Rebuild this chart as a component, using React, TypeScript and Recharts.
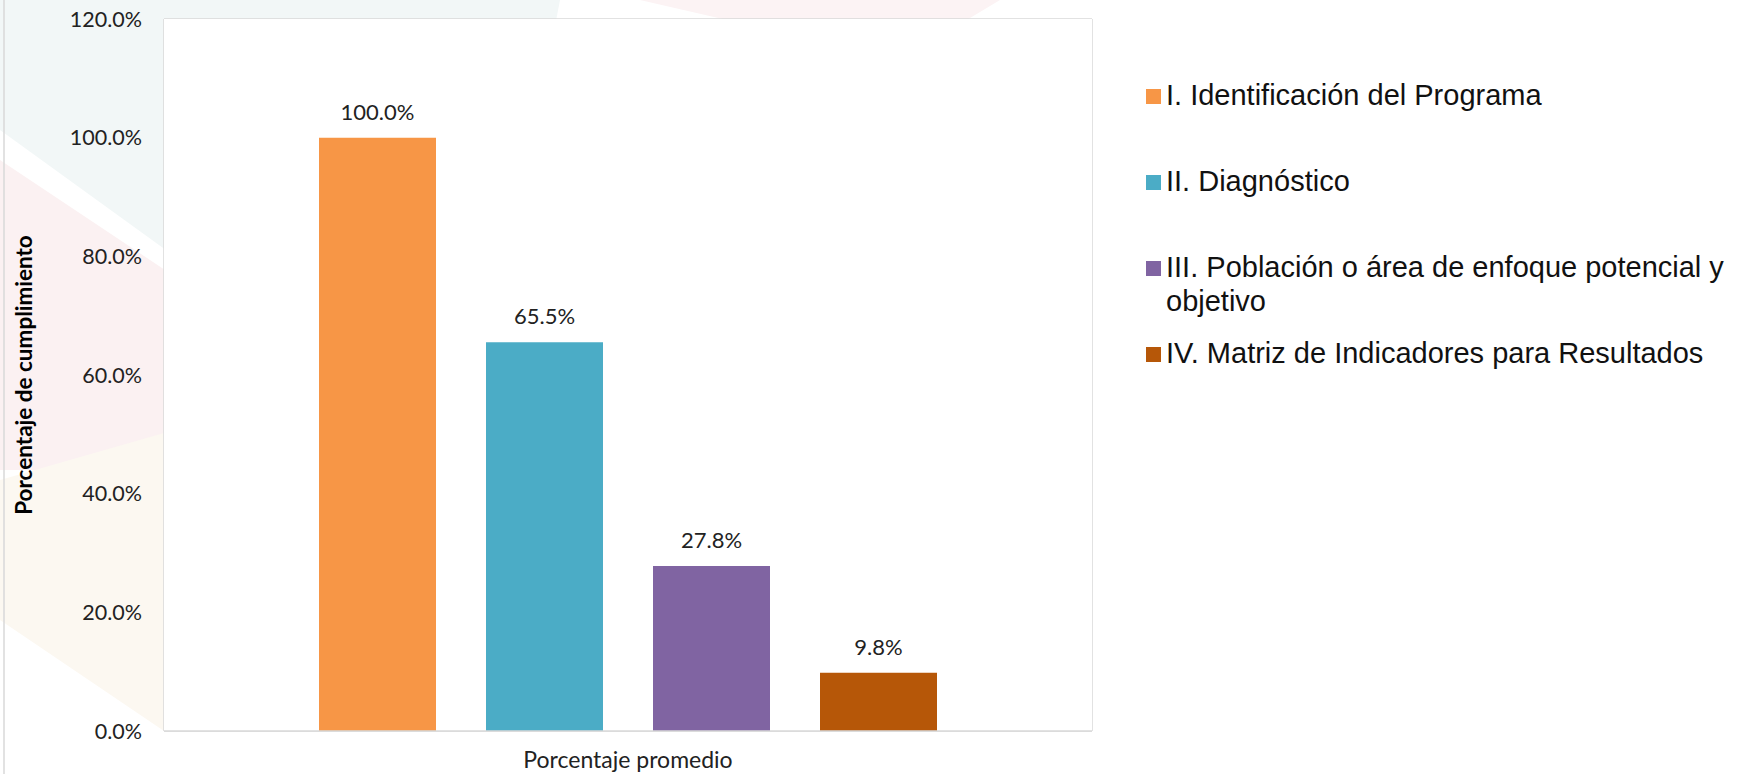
import { BarChart, Bar, XAxis, YAxis, CartesianGrid, Legend, LabelList, Label } from 'recharts';

const categories = ['Porcentaje promedio'];
const seriesNames = [
  'I. Identificación del Programa',
  'II. Diagnóstico',
  'III. Población o área de enfoque potencial y objetivo',
  'IV. Matriz de Indicadores para Resultados',
];
const seriesValues = [100.0, 65.5, 27.8, 9.8];
const seriesColors = ['#F79646', '#4BACC6', '#8064A2', '#B65708'];
const yTicks = [0, 20, 40, 60, 80, 100, 120];

const seriesKeys = seriesNames.map((_, i) => `s${i}`);
const data = categories.map((c) => {
  const row: Record<string, string | number> = { category: c };
  seriesKeys.forEach((k, i) => {
    row[k] = seriesValues[i];
  });
  return row;
});

const pct = (v: number) => `${Number(v).toFixed(1)}%`;
const tickFont = 'Lato, "Open Sans", sans-serif';

function LegendBox({ payload }: any) {
  return (
    <div style={{ fontFamily: '"Liberation Sans", Arial, sans-serif', fontSize: 29, color: '#111' }}>
      {(payload || []).map((p: any) => (
        <div key={p.value} style={{ display: 'flex', alignItems: 'flex-start', height: 86 }}>
          <span
            style={{
              width: 15,
              height: 15,
              background: p.color,
              marginTop: 10,
              marginRight: 5,
              flex: '0 0 auto',
            }}
          />
          <span style={{ lineHeight: '34px', marginTop: -1 }}>{p.value}</span>
        </div>
      ))}
    </div>
  );
}

export default function App() {
  return (
    <div style={{ position: 'relative', width: 1750, height: 774, background: '#fff', overflow: 'hidden' }}>
      <style>{'body{margin:0}'}</style>
      <svg width={1750} height={774} style={{ position: 'absolute', left: 0, top: 0 }}>
        <polygon points="0,0 560,0 470,470 0,130" fill="#f2f7f7" />
        <polygon points="0,160 300,360 320,470 0,470" fill="#fbf1f2" />
        <polygon points="0,480 420,360 164,731 0,620" fill="#fcf8f1" />
        <polygon points="640,0 1000,0 900,60" fill="#fcf3f4" />
        <line x1={4} y1={0} x2={4} y2={774} stroke="#d9d9d9" strokeWidth={1.5} />
      </svg>
      <div style={{ position: 'absolute', left: 0, top: 0 }}>
        <BarChart
          width={1750}
          height={774}
          data={data}
          margin={{ top: 19, right: 658, bottom: 0, left: 0 }}
          barSize={117}
          barGap={50}
        >
          <rect x={164} y={19} width={928} height={712} fill="#fff" />
          <CartesianGrid
            stroke="#d9d9d9"
            strokeWidth={1.5}
            verticalCoordinatesGenerator={({ offset }: any) => [offset.left, offset.left + offset.width]}
          />
          <XAxis
            dataKey="category"
            height={43}
            tick={false}
            tickLine={false}
            axisLine={{ stroke: '#d9d9d9', strokeWidth: 1.5 }}
          >
            <Label
              value="Porcentaje promedio"
              position="insideBottom"
              offset={6}
              style={{ fontFamily: tickFont, fontSize: 23, fill: '#222' }}
            />
          </XAxis>
          <YAxis
            width={164}
            domain={[0, 120]}
            ticks={yTicks}
            tickFormatter={pct}
            tickLine={false}
            tickSize={0}
            tickMargin={22}
            axisLine={false}
            tick={{ fontFamily: tickFont, fontSize: 21.5, fill: '#222' }}
          >
            <Label
              content={({ viewBox }: any) => {
                const cx = 23;
                const cy = viewBox.y + viewBox.height / 2;
                return (
                  <text
                    x={cx}
                    y={cy}
                    transform={`rotate(-90, ${cx}, ${cy})`}
                    textAnchor="middle"
                    dominantBaseline="central"
                    style={{ fontFamily: tickFont, fontSize: 22.5, fontWeight: 700, fill: '#000' }}
                  >
                    Porcentaje de cumplimiento
                  </text>
                );
              }}
            />
          </YAxis>
          <Legend
            layout="horizontal"
            align="center"
            verticalAlign="middle"
            content={<LegendBox />}
            wrapperStyle={{ left: 1146, top: 79, width: 600, height: 'auto' }}
          />
          {seriesKeys.map((k, i) => (
            <Bar key={k} dataKey={k} name={seriesNames[i]} fill={seriesColors[i]} isAnimationActive={false}>
              <LabelList
                dataKey={k}
                position="top"
                offset={18}
                formatter={pct}
                style={{ fontFamily: tickFont, fontSize: 22, fill: '#222' }}
              />
            </Bar>
          ))}
        </BarChart>
      </div>
    </div>
  );
}
